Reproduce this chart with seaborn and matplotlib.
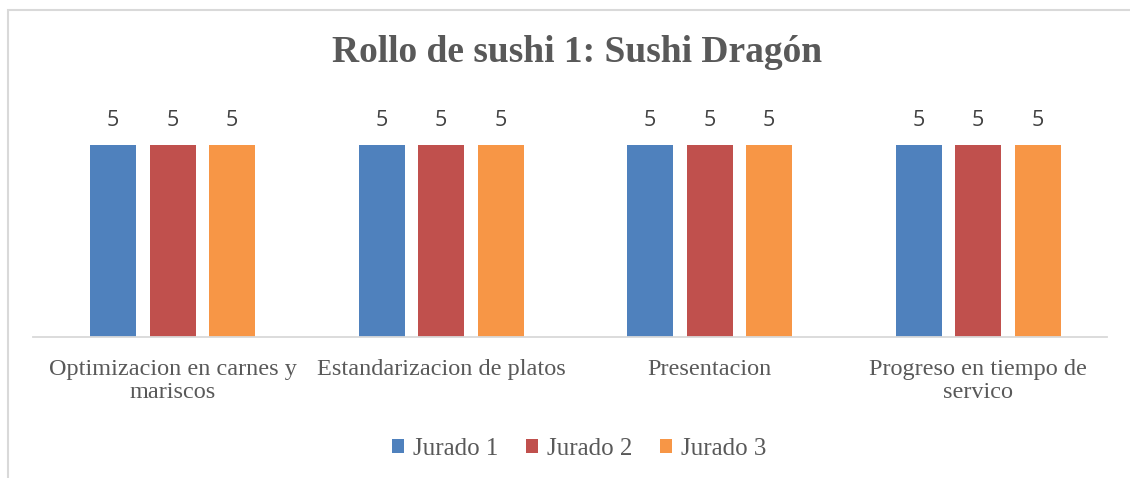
import matplotlib
matplotlib.use("Agg")
import matplotlib.pyplot as plt
from matplotlib.patches import Rectangle
import pandas as pd
import seaborn as sns

# Scores per criterion and judge
categories = [
    "Optimizacion en carnes y\nmariscos",
    "Estandarizacion de platos",
    "Presentacion",
    "Progreso en tiempo de\nservico",
]
series_names = ["Jurado 1", "Jurado 2", "Jurado 3"]
jurado_1 = [5, 5, 5, 5]
jurado_2 = [5, 5, 5, 5]
jurado_3 = [5, 5, 5, 5]
colors = ["#4F81BD", "#C0504D", "#F79646"]
title = "Rollo de sushi 1: Sushi Dragón"

rows = []
for name, vals in zip(series_names, [jurado_1, jurado_2, jurado_3]):
    for cat, v in zip(categories, vals):
        rows.append({"criterio": cat, "jurado": name, "puntaje": v})
df = pd.DataFrame(rows)

sns.set_theme(style="white")
plt.rcParams["font.family"] = ["Liberation Serif", "DejaVu Serif"]

W, H = 1130, 478
fig = plt.figure(figsize=(W / 100, H / 100), dpi=100)
ax = fig.add_axes([33 / W, 1 - 337 / H, (1107 - 33) / W, (337 - 97) / H])

sns.barplot(
    data=df, x="criterio", y="puntaje", hue="jurado",
    palette=colors, width=0.665, gap=0.23, dodge=True,
    saturation=1, linewidth=0, ax=ax, legend=True,
)

ax.set_ylim(0, 6.25)
ax.set_xlim(-0.5 - 0.02, len(categories) - 0.5 - 0.02)
for c in ax.containers:
    ax.bar_label(c, labels=[str(int(v)) for v in c.datavalues], padding=10,
                 fontsize=15.5, color="#404040", family="Open Sans")

ax.set_xlabel("")
ax.set_ylabel("")
ax.set_yticks([])
ax.set_xticks(range(len(categories)))
ax.set_xticklabels(categories, fontsize=17.5, color="#595959",
                   multialignment="center", linespacing=1.12)
ax.tick_params(axis="x", length=0, pad=16)
for s in ["top", "right", "left"]:
    ax.spines[s].set_visible(False)
ax.spines["bottom"].set_color("#D9D9D9")
ax.spines["bottom"].set_linewidth(1.3)

handles, labels = ax.get_legend_handles_labels()
ax.get_legend().remove()
fig.legend(handles, labels, loc="center", bbox_to_anchor=(579 / W, 1 - 449 / H),
           ncol=3, frameon=False, fontsize=18, labelcolor="#595959",
           handlelength=0.5, handleheight=0.5, handletextpad=0.35, columnspacing=1.1)

fig.text(577 / W, 1 - 52 / H, title, ha="center", va="center",
         fontsize=27, fontweight="bold", color="#595959")

# outer chart frame
fig.patches.append(Rectangle((8 / W, -0.05), 1.1, 1 - 10 / H + 0.05,
                             transform=fig.transFigure, fill=False,
                             edgecolor="#D9D9D9", linewidth=1.5))

fig.savefig("out.png", dpi=100)
